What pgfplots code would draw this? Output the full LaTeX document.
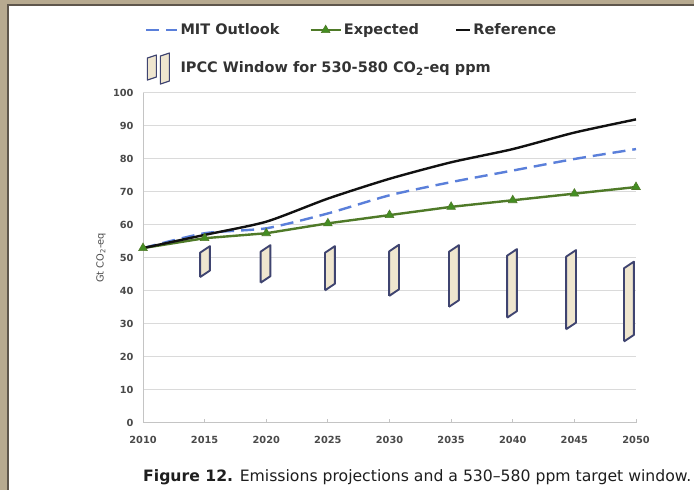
\documentclass[border=0pt]{standalone}
\usepackage{fontspec}
\setmainfont{DejaVu Sans}
\usepackage{pgfplots}
\pgfplotsset{compat=1.18}
\definecolor{bgtan}{HTML}{B7AA90}
\definecolor{framedark}{HTML}{5E564C}
\definecolor{gridgray}{HTML}{DADADA}
\definecolor{axisgray}{HTML}{C4C4C4}
\definecolor{tickgray}{HTML}{4A4A4A}
\definecolor{legtext}{HTML}{333333}
\definecolor{captext}{HTML}{1E1E1E}
\definecolor{mitblue}{HTML}{5A7FDA}
\definecolor{expgreen}{HTML}{4F7A28}
\definecolor{refblack}{HTML}{111111}
\definecolor{winfill}{HTML}{EFE6CF}
\definecolor{winborder}{HTML}{3F4470}
\pgfplotsset{
  mitleg/.style={legend image code/.code={\draw[##1] (0pt,0pt) -- (31pt,0pt);}},
  expleg/.style={legend image code/.code={\draw[mark repeat=2, mark phase=2, ##1] plot coordinates {(0pt,0pt) (15pt,0pt) (30pt,0pt)};}},
  refleg/.style={legend image code/.code={\draw[##1] (0pt,0pt) -- (14pt,0pt);}},
  winleg/.style={legend image code/.code={
    \draw[winborder, fill=winfill, line width=1.2pt, line join=round] (1pt,-12pt) -- (10pt,-9pt) -- (10pt,13pt) -- (1pt,10pt) -- cycle;
    \draw[winborder, fill=winfill, line width=1.2pt, line join=round] (14pt,-16pt) -- (23pt,-13pt) -- (23pt,15pt) -- (14pt,12pt) -- cycle;}},
  win/.style={draw=winborder, fill=winfill, line width=1.9pt, line join=round},
}
\begin{document}
\begin{tikzpicture}
\useasboundingbox (0pt,0pt) rectangle (694pt,490pt);
\fill[bgtan] (0pt,0pt) rectangle (694pt,490pt);
\fill[framedark] (7pt,0pt) rectangle (694pt,486pt);
\fill[white] (9pt,0pt) rectangle (694pt,484pt);
\begin{axis}[
  at={(143pt,67pt)}, anchor=south west,
  scale only axis, width=493pt, height=330pt,
  xmin=2010, xmax=2050, ymin=0, ymax=100,
  xtick={2010,2015,...,2050}, ytick={0,10,...,100},
  ymajorgrids, grid style={gridgray, line width=1pt},
  axis x line*=bottom, axis y line*=left,
  axis line style={axisgray, line width=1pt},
  xtick style={axisgray, line width=1pt}, xtick align=inside, major tick length=4pt,
  ytick style={draw=none},
  tick label style={font=\fontsize{9.8}{11}\selectfont\bfseries, text=tickgray,
    /pgf/number format/assume math mode=true, /pgf/number format/1000 sep={}},
  yticklabel style={xshift=-6pt},
  xticklabel style={yshift=-10pt},
  ylabel={Gt CO\textsubscript{2}-eq},
  ylabel style={font=\fontsize{9.8}{11}\selectfont, text=tickgray, at={(axis description cs:-0.085,0.5)}, anchor=center},
  legend columns=3,
  legend cell align=left,
  legend style={at={(axis description cs:0.004,1.216)}, anchor=north west, draw=none, fill=none,
    font=\fontsize{14.5}{16}\selectfont\bfseries, text=legtext, inner sep=0pt,
    /tikz/column 2/.style={column sep=28pt},
    /tikz/column 4/.style={column sep=34pt},
    /tikz/row sep=14pt},
]
% MIT Outlook
\addplot[mitblue, line width=2.4pt, dash pattern=on 13pt off 7pt, smooth, tension=0.4, mitleg]
  coordinates {(2010,53) (2015,57.5) (2020,59) (2025,63.5) (2030,69) (2035,73) (2040,76.5) (2045,80) (2050,83)};
\addlegendentry{MIT Outlook}
% Expected
\addplot[expgreen, line width=2.4pt, mark=triangle*, mark size=5pt, mark options={fill=expgreen!85!green, draw=expgreen, line width=0.6pt}, expleg]
  coordinates {(2010,53) (2015,56) (2020,57.5) (2025,60.5) (2030,63) (2035,65.5) (2040,67.5) (2045,69.5) (2050,71.5)};
\addlegendentry{Expected}
% Reference
\addplot[refblack, line width=2.4pt, smooth, tension=0.4, refleg]
  coordinates {(2010,53) (2015,57) (2020,61) (2025,68) (2030,74) (2035,79) (2040,83) (2045,88) (2050,92)};
\addlegendentry{Reference}
% IPCC windows
\addplot[win, winleg]
  coordinates {(2014.63,44.2) (2015.43,46.2) (2015.43,53.6) (2014.63,51.6) (2014.63,44.2)};
\addlegendentry{\rlap{IPCC Window for 530-580 CO\textsubscript{2}-eq ppm}}
\addplot[forget plot, win]
  coordinates {(2019.54,42.5) (2020.34,44.5) (2020.34,53.9) (2019.54,51.9) (2019.54,42.5)};
\addplot[forget plot, win]
  coordinates {(2024.77,40.2) (2025.57,42.2) (2025.57,53.6) (2024.77,51.6) (2024.77,40.2)};
\addplot[forget plot, win]
  coordinates {(2029.97,38.5) (2030.77,40.5) (2030.77,54.0) (2029.97,52.0) (2029.97,38.5)};
\addplot[forget plot, win]
  coordinates {(2034.83,35.2) (2035.63,37.2) (2035.63,53.9) (2034.83,51.9) (2034.83,35.2)};
\addplot[forget plot, win]
  coordinates {(2039.54,31.9) (2040.34,33.9) (2040.34,52.7) (2039.54,50.7) (2039.54,31.9)};
\addplot[forget plot, win]
  coordinates {(2044.33,28.4) (2045.13,30.4) (2045.13,52.4) (2044.33,50.4) (2044.33,28.4)};
\addplot[forget plot, win]
  coordinates {(2049.03,24.7) (2049.83,26.7) (2049.83,48.9) (2049.03,46.9) (2049.03,24.7)};
\end{axis}
\node[anchor=base west, inner sep=0pt, text=captext] at (143pt,8pt)
  {\resizebox{548pt}{!}{\fontsize{13.5}{16}\selectfont\textbf{Figure 12.} Emissions projections and a 530--580 ppm target window.}};
\end{tikzpicture}
\end{document}
